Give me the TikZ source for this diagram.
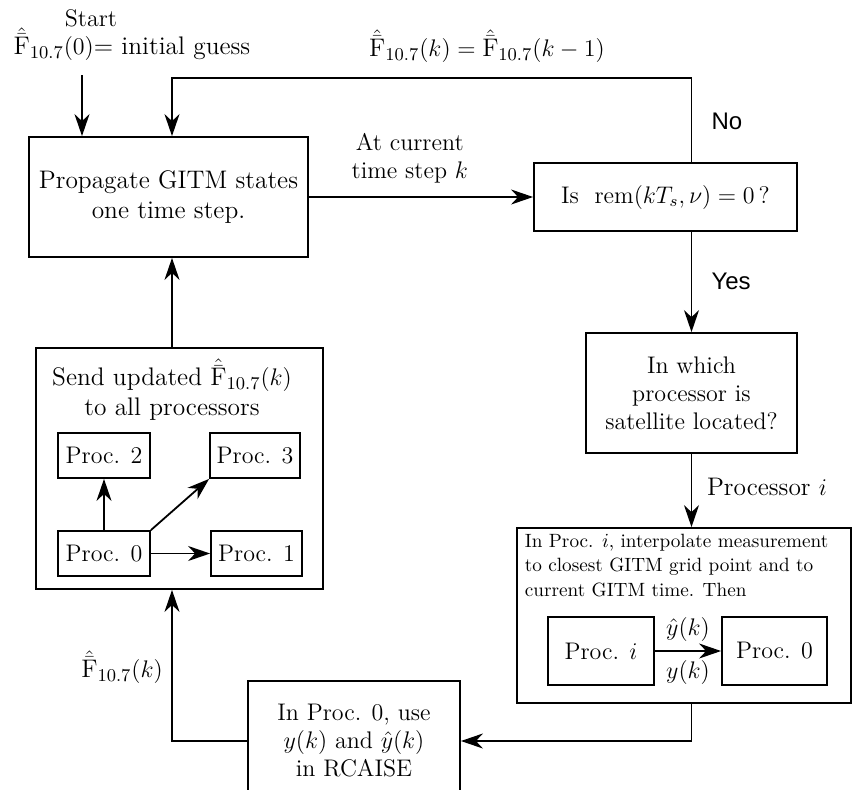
\documentclass[tikz,border=0pt]{standalone}
\usepackage{amsmath,amssymb}
\usepackage{fontspec}
\newfontfamily\yesnofont{Liberation Sans}
\usepackage{tikz}
\usetikzlibrary{positioning, calc, arrows.meta}

\newcommand{\Fhatbar}{\hat{\bar{\mathrm{F}}}_{10.7}}

\begin{document}
\begin{tikzpicture}[
        x=0.5pt, y=-0.5pt,
        line width=0.9pt,
        font=\large,
        block/.style={
            rectangle,
            draw,
            inner sep=0pt,
            align=center,
            font=\large
        },
        arr/.style={-{Stealth[length=11pt, width=7.5pt, inset=3.5pt]}},
        branch/.style={font=\yesnofont\large},
        fontF/.style={font=\fontsize{12.7}{15}\selectfont}
    ]

        \useasboundingbox (0,0) rectangle (852,789);

        % Start and initial guess
        \node (start) at (91,18) {Start};
        \node[fontF] (init) at (132,44) {$\Fhatbar(0)$= initial guess};
        \coordinate (s0) at (82,75);
        \coordinate (col) at (172,300);

        % Main loop
        \node[block, minimum width=139.5pt, minimum height=60pt, fontF] (prop) at (168.5,197)
            {Propagate GITM states\\one time step.};
        \node[block, minimum width=131.5pt, minimum height=34pt] (dec) at (665.5,197)
            {Is \ $\operatorname{rem}(kT_s,\nu)=0$\,?};
        \node[block, minimum width=105.5pt, minimum height=60pt] (which) at (691.5,393)
            {In which\\processor is\\satellite located?};
        \draw[arr] (s0) -- (prop.north -| s0);
        \draw[arr] (prop.east) -- (dec.west)
            node[pos=0.45, above=3pt, align=center] (atk) {At current\\time step $k$};

        % No branch (feedback)
        \coordinate (fb) at (172,78);
        \draw[arr] (dec.north -| which.north) |- (fb) -- (prop.north -| fb);
        \node[fontF] (upd) at (487,46) {$\Fhatbar(k) = \Fhatbar(k-1)$};
        \node[branch, anchor=west] (no) at (704,121) {No};

        % Yes branch
        \draw[arr] (dec.south -| which.north) -- (which.north);
        \node[branch, anchor=west] (yes) at (704,281) {Yes};

        % Interpolation box
        \node[block, minimum width=167pt, minimum height=87.5pt] (interp) at (684,615.5) {};
        \node[anchor=north west, align=left, font=\fontsize{9.6}{12.2}\selectfont, inner sep=0pt] (interptxt) at (524,533)
            {In Proc. $i$, interpolate measurement\\to closest GITM grid point and to\\current GITM time. Then};
        \node[block, minimum width=53pt, minimum height=34pt] (proci) at (601,651) {Proc. $i$};
        \node[block, minimum width=52.5pt, minimum height=34pt] (pzero) at (774.5,651) {Proc. 0};
        \draw[arr] (proci.east) -- (pzero.west)
            node[midway, above=1pt] (yh) {$\hat{y}(k)$}
            node[midway, below=1pt] (ym) {$y(k)$};
        \draw[arr] (which.south) -- (interp.north -| which.south)
            node[pos=0.45, right=4pt, fontF] (proclab) {Processor\ $i$};

        % RCAISE update
        \node[block, minimum width=106pt, minimum height=60pt] (rcaise) at (354,741)
            {In Proc. 0, use\\$y(k)$ and $\hat{y}(k)$\\in RCAISE};
        \draw[arr] (interp.south -| which.south) |- (rcaise.east);

        % Send to all processors
        \node[block, minimum width=143.5pt, minimum height=120.5pt] (send) at (179.5,468.5) {};
        \node[align=center, fontF] (sendtxt) at (172,390) {Send updated $\Fhatbar(k)$\\to all processors};
        \node[block, minimum width=46pt, minimum height=22.5pt] (p2) at (104,455.5) {Proc. 2};
        \node[block, minimum width=45pt, minimum height=22.5pt] (p3) at (255,455.5) {Proc. 3};
        \node[block, minimum width=46pt, minimum height=22.5pt] (p0) at (104,553.5) {Proc. 0};
        \node[block, minimum width=45.5pt, minimum height=22.5pt] (p1) at (256.5,553.5) {Proc. 1};
        \draw[arr] (p0.north) -- (p2.south);
        \draw[arr] (p0.north east) -- (p3.south west);
        \draw[arr] (p0.east) -- (p1.west);

        \draw[arr] (rcaise.west) -| (send.south -| col);
        \node[fontF] (fk) at (122,667) {$\Fhatbar(k)$};
        \draw[arr] (send.north -| col) -- (prop.south -| col);

    \end{tikzpicture}
\end{document}
